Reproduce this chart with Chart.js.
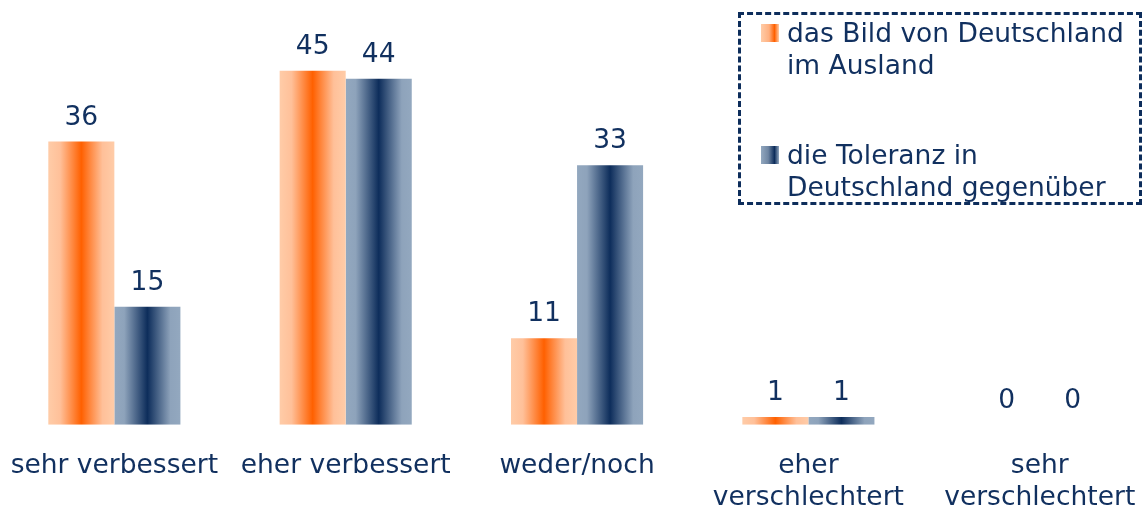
<!DOCTYPE html>
<html>
<head>
<meta charset="utf-8">
<script src="https://cdn.jsdelivr.net/npm/chart.js@4/dist/chart.umd.min.js"></script>
<style>
  html, body { margin: 0; padding: 0; background: #fff; overflow: hidden; }
  #wrap { position: relative; width: 1173px; height: 512px; margin-left: -14px; }
  #legend {
    position: absolute; left: 752px; top: 12px; width: 404px; height: 193px;
    border: 3px dashed #0d2d5b; box-sizing: border-box;
    font-family: "DejaVu Sans", Verdana, sans-serif; font-size: 26.5px; line-height: 32px; color: #11305f;
    white-space: nowrap;
  }
  .item { position: absolute; left: 46px; }
  .item .mark { position: absolute; left: -26px; top: 7px; width: 18px; height: 18px; }
</style>
</head>
<body>
<div id="wrap">
  <canvas id="chart"></canvas>
  <div id="legend"></div>
</div>
<script>
///////////////////// data /////////////////////
var categories = [["sehr verbessert"], ["eher verbessert"], ["weder/noch"], ["eher", "verschlechtert"], ["sehr", "verschlechtert"]];
var bild_values = [36, 45, 11, 1, 0];
var toleranz_values = [15, 44, 33, 1, 0];
var series_names = [["das Bild von Deutschland", "im Ausland"], ["die Toleranz in", "Deutschland gegenüber"]];

var navy = "#11305f";
var catPct = 0.571;

// horizontal gradient per bar: light edges, dark middle
function orangeBar(ctx) {
  var chart = ctx.chart;
  var xs = chart.scales.x;
  if (!xs || !xs.width) return "#ff6600";
  var center = xs.getPixelForValue(ctx.dataIndex);
  var w = (xs.width / categories.length) * catPct / 2;
  var left = center - w;
  var g = chart.ctx.createLinearGradient(left, 0, left + w, 0);
  g.addColorStop(0, "#ffcca8");
  g.addColorStop(0.18, "#ffc099");
  g.addColorStop(0.5, "#ff6000");
  g.addColorStop(0.82, "#ffc099");
  g.addColorStop(1, "#ffcca8");
  return g;
}

function blueBar(ctx) {
  var chart = ctx.chart;
  var xs = chart.scales.x;
  if (!xs || !xs.width) return "#0d2d5b";
  var center = xs.getPixelForValue(ctx.dataIndex);
  var w = (xs.width / categories.length) * catPct / 2;
  var left = center;
  var g = chart.ctx.createLinearGradient(left, 0, left + w, 0);
  g.addColorStop(0, "#93a8bf");
  g.addColorStop(0.15, "#8ea3bb");
  g.addColorStop(0.5, "#0d2d5b");
  g.addColorStop(0.85, "#8ea3bb");
  g.addColorStop(1, "#93a8bf");
  return g;
}

// value labels above the bars
const valueLabels = {
  id: 'valueLabels',
  afterDatasetsDraw(chart) {
    const c = chart.ctx;
    c.save();
    c.font = '26.5px "DejaVu Sans", Verdana, sans-serif';
    c.fillStyle = navy;
    c.textAlign = 'center';
    c.textBaseline = 'middle';
    chart.data.datasets.forEach(function (ds, i) {
      chart.getDatasetMeta(i).data.forEach(function (bar, j) {
        c.fillText(ds.data[j], bar.x, bar.y - 24);
      });
    });
    c.restore();
  }
};

Chart.defaults.font.family = '"DejaVu Sans", Verdana, sans-serif';
Chart.defaults.color = navy;

var chrt = document.getElementById("chart").getContext("2d");
var myChart = new Chart(chrt, {
  type: "bar",
  data: {
    labels: categories,
    datasets: [
      { label: series_names[0].join(" "), data: bild_values, backgroundColor: orangeBar },
      { label: series_names[1].join(" "), data: toleranz_values, backgroundColor: blueBar }
    ]
  },
  options: {
    responsive: true,
    maintainAspectRatio: false,
    animation: false,
    layout: { padding: { left: 0, right: 0, top: 0, bottom: -27 } },
    plugins: {
      legend: { display: false },
      tooltip: { enabled: false }
    },
    datasets: {
      bar: { barPercentage: 1, categoryPercentage: catPct }
    },
    scales: {
      x: {
        grid: { display: false, drawTicks: false },
        border: { display: false },
        ticks: {
          padding: 25,
          maxRotation: 0,
          autoSkip: false,
          font: { size: 26.5, lineHeight: 1.21 },
          color: navy
        }
      },
      y: {
        display: false,
        min: 0,
        max: 54
      }
    }
  },
  plugins: [valueLabels]
});

/////////////////// html legend ///////////////////
const legendBox = document.getElementById('legend');
const markColors = [
  'linear-gradient(to right, #ffcca8 0%, #ffb080 45%, #ff6000 75%, #ffcca8 100%)',
  'linear-gradient(to right, #93a8bf 0%, #6f86a3 40%, #0d2d5b 75%, #93a8bf 100%)'
];
const itemTops = [2, 124];
series_names.forEach(function (lines, i) {
  const item = document.createElement('div');
  item.classList.add('item');
  item.style.top = itemTops[i] + 'px';
  item.innerHTML = '<span class="mark" style="background:' + markColors[i] + '"></span>' + lines.join('<br>');
  legendBox.appendChild(item);
});
</script>
</body>
</html>
